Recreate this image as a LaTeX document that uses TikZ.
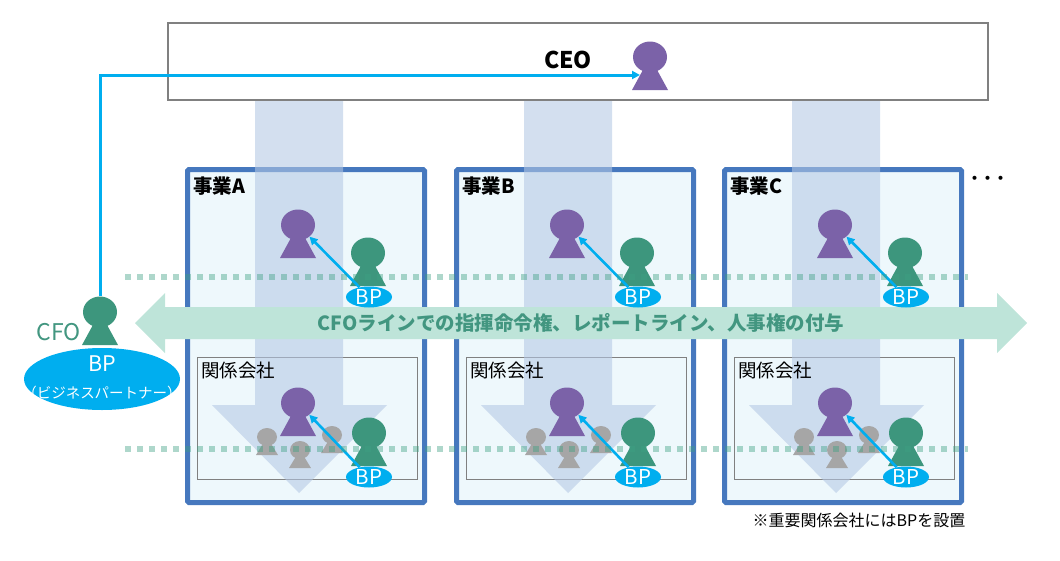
\documentclass[tikz,border=0pt]{standalone}
\usepackage{fontspec}
\setmainfont{Noto Sans CJK JP}
\usetikzlibrary{shapes.geometric,arrows.meta}
\definecolor{bord}{RGB}{70,120,190}
\definecolor{boxfill}{RGB}{238,248,252}
\definecolor{colarr}{RGB}{180,200,228}
\definecolor{mint}{RGB}{190,228,217}
\definecolor{mintt}{RGB}{66,150,128}
\definecolor{dotc}{RGB}{61,160,130}
\definecolor{ppl}{RGB}{123,98,168}
\definecolor{pgr}{RGB}{61,150,125}
\definecolor{pgray}{RGB}{166,166,166}
\definecolor{bpc}{RGB}{0,174,239}
\definecolor{ceogray}{RGB}{128,128,128}
\tikzset{
  ceobox/.style={draw=ceogray, line width=1.3pt, fill=white, minimum width=820pt, minimum height=77pt, inner sep=0pt},
  bizbox/.style={draw=bord, line width=5pt, fill=boxfill, rounded corners=1.5pt, minimum width=237pt, minimum height=333pt, inner sep=0pt},
  subbox/.style={draw=ceogray, line width=0.9pt, minimum width=220pt, minimum height=122pt, inner sep=0pt},
  bpnode/.style={ellipse, fill=bpc, minimum width=46pt, minimum height=21pt, inner sep=0pt},
  bptext/.style={text=white, font=\fontsize{20.5}{20.5}\selectfont, inner sep=0pt},
  bparr/.style={draw=bpc, line width=2.6pt, -{Triangle[length=8pt,width=8pt]}},
  cfoline/.style={draw=bpc, line width=3pt, -{Triangle[length=8pt,width=8pt]}},
  dotline/.style={draw=dotc, draw opacity=0.42, line width=5.5pt, dash pattern=on 5.5pt off 6.5pt},
  colarrow/.style={fill=colarr, fill opacity=0.58},
  headnode/.style={ellipse, inner sep=0pt, minimum width=34pt, minimum height=31pt},
  gheadnode/.style={ellipse, inner sep=0pt, minimum width=20pt, minimum height=18pt, fill=pgray},
  pics/person/.style={code={
    \fill[#1] (0,0) -- (-18,33) -- (18,33) -- cycle;
    \node[headnode, fill=#1] (-h) at (0,0) {};
  }},
  pics/gperson/.style={code={
    \fill[pgray] (0,0) -- (-11,18) -- (11,18) -- cycle;
    \node[gheadnode] (-h) at (0,0) {};
  }},
}
\begin{document}
\begin{tikzpicture}[x=1pt,y=-1pt]
\useasboundingbox (0,0) rectangle (1060,560);
% CEO box
\node[ceobox] (ceobox) at (578,61.5) {};
\node[font=\bfseries\fontsize{23}{23}\selectfont, inner sep=0pt] (ceotxt) at (568,60) {CEO};
\pic (ceo) at (650,57) {person=ppl};
% business boxes
\foreach \dx/\L in {0/A,269/B,537/C}{
  \begin{scope}[shift={(\dx,0)}]
    \node[bizbox] (biz\L) at (306,336) {};
    \node[subbox] (sub\L) at (307,418) {};
    \fill[colarrow] (255,101) -- (343,101) -- (343,405) -- (387,405) -- (299,493) -- (212,405) -- (255,405) -- cycle;
    \node[anchor=west, inner sep=0pt, font=\bfseries\fontsize{19.5}{19.5}\selectfont] (lab\L) at (193,186) {事業\L};
    \node[anchor=west, inner sep=0pt, font=\fontsize{18.5}{18.5}\selectfont] (kan\L) at (201,370) {関係会社};
  \end{scope}
}
% big horizontal arrow
\fill[mint] (135,323) -- (165,293) -- (165,307) -- (997,307) -- (997,293) -- (1027,323) -- (997,353) -- (997,339) -- (165,339) -- (165,353) -- cycle;
\node[text=mintt, font=\bfseries\fontsize{19.5}{19.5}\selectfont, inner sep=0pt] (linetxt) at (581,323) {CFOラインでの指揮命令権、レポートライン、人事権の付与};
% persons
\foreach \dx/\L in {0/A,269/B,537/C}{
  \begin{scope}[shift={(\dx,0)}]
    \pic (tp\L) at (298,225) {person=ppl};
    \pic (tg\L) at (368,253) {person=pgr};
    \node[bpnode] (tbp\L) at (369,297) {};
    \node[bptext] (tbpt\L) at (tbp\L) {BP};
    \draw[bparr] (tbp\L) -- (tp\L-h);
    \pic (ga\L) at (267,437) {gperson};
    \pic (gb\L) at (300,450) {gperson};
    \pic (gc\L) at (332,435) {gperson};
    \pic (bp\L) at (298,403) {person=ppl};
    \pic (bg\L) at (369,433) {person=pgr};
    \node[bpnode] (bbp\L) at (369,477) {};
    \node[bptext] (bbpt\L) at (bbp\L) {BP};
    \draw[bparr] (bbp\L) -- (bp\L-h);
  \end{scope}
}
% dotted lines
\coordinate (d1s) at (125,277); \coordinate (d1e) at (968,277);
\coordinate (d2s) at (125,449); \coordinate (d2e) at (968,449);
\draw[dotline] (d1s) -- (d1e);
\draw[dotline] (d2s) -- (d2e);
% dots and note
\node[font=\fontsize{19}{19}\selectfont, inner sep=0pt] (dots) at (988,181) {・\kern-6pt・\kern-6pt・};
\node[font=\fontsize{16}{16}\selectfont, inner sep=0pt] (note) at (859,520) {※重要関係会社にはBPを設置};
% CFO
\pic (cfo) at (100,312) {person=pgr};
\node[anchor=east, text=mintt, font=\fontsize{23}{23}\selectfont, inner sep=0pt] (cfotxt) at (81,332) {CFO};
\node[ellipse, fill=bpc, minimum width=156pt, minimum height=62pt, inner sep=0pt] (cfobp) at (102,379) {};
\node[text=white, font=\fontsize{21.5}{21.5}\selectfont, inner sep=0pt] (cfobpt) at (102,364) {BP};
\node[text=white, font=\fontsize{14.5}{14.5}\selectfont, inner sep=0pt] (cfobpt2) at (102,393) {（ビジネスパートナー）};
\coordinate (ceoin) at (640,75);
\draw[cfoline] (cfo-h.north) |- (ceoin);
\end{tikzpicture}
\end{document}
